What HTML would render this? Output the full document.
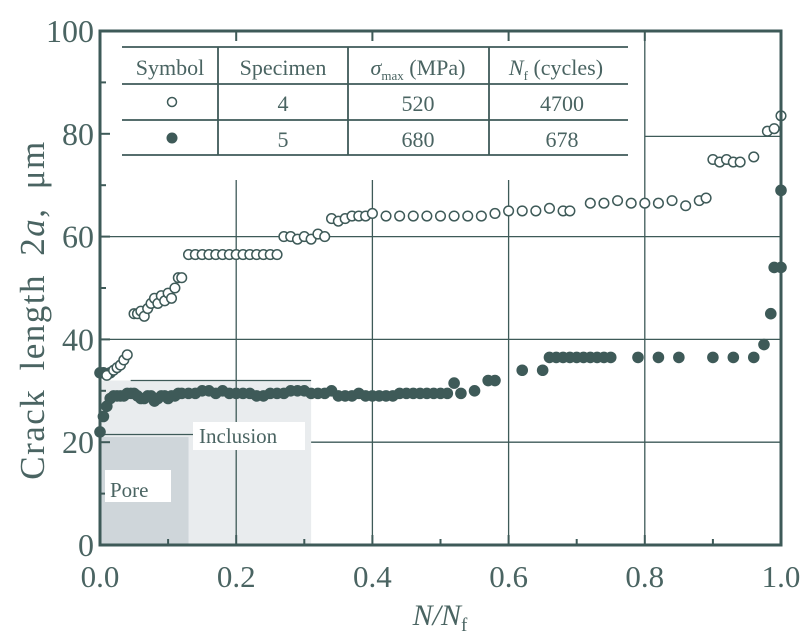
<!DOCTYPE html>
<html><head><meta charset="utf-8"><style>
body{margin:0;background:#fff;width:804px;height:639px;overflow:hidden}
svg text{font-family:"Liberation Serif",serif;fill:#4a6462}
</style></head><body>
<svg id="c" width="804" height="639" style="position:absolute;left:0;top:0">
<g id="bg"></g><g id="grid"></g><g id="marks"></g><g id="fg"></g>
<g>
 <rect x="193" y="422" width="112" height="28" fill="#fff"/>
 <text x="199" y="443" font-size="21">Inclusion</text>
 <rect x="105" y="470" width="66" height="32" fill="#fff"/>
 <text x="110" y="497" font-size="21">Pore</text>
</g>
<g>
 <rect x="122" y="47" width="506" height="108" fill="#fff"/>
 <g stroke="#3e5a58" stroke-width="1.8">
  <line x1="122" y1="47" x2="628" y2="47"/><line x1="122" y1="84" x2="628" y2="84"/>
  <line x1="122" y1="120" x2="628" y2="120"/><line x1="122" y1="155" x2="628" y2="155"/>
  <line x1="218" y1="47" x2="218" y2="155"/><line x1="348" y1="47" x2="348" y2="155"/><line x1="489" y1="47" x2="489" y2="155"/>
 </g>
 <g font-size="22" text-anchor="middle">
  <text x="170" y="75">Symbol</text>
  <text x="283" y="75">Specimen</text>
  <text x="418" y="75"><tspan font-style="italic">σ</tspan><tspan font-size="13" dy="5">max</tspan><tspan dy="-5"> (MPa)</tspan></text>
  <text x="556" y="75"><tspan font-style="italic">N</tspan><tspan font-size="13" dy="5">f</tspan><tspan dy="-5"> (cycles)</tspan></text>
  <text x="283" y="111">4</text><text x="418" y="111">520</text><text x="562" y="111">4700</text>
  <text x="283" y="147">5</text><text x="418" y="147">680</text><text x="562" y="147">678</text>
 </g>
 <circle cx="172" cy="102" r="4.5" fill="#fff" stroke="#3e5a58" stroke-width="1.5"/>
 <circle cx="172" cy="138" r="5.5" fill="#3e5a58"/>
</g>
<text x="440" y="625" text-anchor="middle" font-size="30" font-style="italic">N/N<tspan font-size="19" dy="6" font-style="normal">f</tspan></text>
<text transform="translate(44,310) rotate(-90)" text-anchor="middle" font-size="35" letter-spacing="1.5" word-spacing="8">Crack length  2<tspan font-style="italic">a</tspan>,  μm</text>
</svg>
<script>
const xTicks=[0,0.2,0.4,0.6,0.8,1.0];
const xTickLabels=["0.0","0.2","0.4","0.6","0.8","1.0"];
const yTicks=[0,20,40,60,80,100];
const yTickLabels=["0","20","40","60","80","100"];
const spec4X=[0.01,0.02,0.025,0.03,0.035,0.04,0.05,0.055,0.06,0.065,0.07,0.075,0.08,0.085,0.09,0.095,0.1,0.105,0.11,0.115,0.12,0.13,0.14,0.15,0.16,0.17,0.18,0.19,0.2,0.21,0.22,0.23,0.24,0.25,0.26,0.27,0.28,0.29,0.3,0.31,0.32,0.33,0.34,0.35,0.36,0.37,0.38,0.39,0.4,0.42,0.44,0.46,0.48,0.5,0.52,0.54,0.56,0.58,0.6,0.62,0.64,0.66,0.68,0.69,0.72,0.74,0.76,0.78,0.8,0.82,0.84,0.86,0.88,0.89,0.9,0.91,0.92,0.93,0.94,0.96,0.98,0.99,1.0];
const spec4Y=[33,34,34.5,35,36,37,45,45,45.5,44.5,46,47,48,47,48.5,47.5,49,48,50,52,52,56.5,56.5,56.5,56.5,56.5,56.5,56.5,56.5,56.5,56.5,56.5,56.5,56.5,56.5,60,60,59.5,60,59.5,60.5,60,63.5,63,63.5,64,64,64,64.5,64,64,64,64,64,64,64,64,64.5,65,65,65,65.5,65,65,66.5,66.5,67,66.5,66.5,66.5,67,66,67,67.5,75,74.5,75,74.5,74.5,75.5,80.5,81,83.5];
const spec5X=[0.0,0.0,0.005,0.01,0.015,0.02,0.03,0.04,0.05,0.06,0.07,0.08,0.09,0.1,0.11,0.12,0.14,0.16,0.18,0.2,0.22,0.24,0.26,0.28,0.3,0.32,0.34,0.36,0.38,0.4,0.42,0.44,0.46,0.48,0.5,0.52,0.53,0.55,0.57,0.58,0.62,0.65,0.66,0.68,0.7,0.72,0.74,0.75,0.79,0.82,0.85,0.9,0.93,0.96,0.975,0.985,0.99,1.0,1.0,0.005,0.015,0.025,0.035,0.045,0.055,0.065,0.075,0.085,0.095,0.105,0.115,0.13,0.15,0.17,0.19,0.21,0.23,0.25,0.27,0.29,0.31,0.33,0.35,0.37,0.39,0.41,0.43,0.45,0.47,0.49,0.51,0.67,0.69,0.71,0.73];
const spec5Y=[22,33.5,25,27,28.5,29,29,29.5,29.5,28.5,29,28,29,28.5,29,29.5,29.5,30,30,29.5,29.5,29,29.5,30,30,29.5,30,29,29.5,29,29,29.5,29.5,29.5,29.5,31.5,29.5,30,32,32,34,34,36.5,36.5,36.5,36.5,36.5,36.5,36.5,36.5,36.5,36.5,36.5,36.5,39,45,54,54,69,33.5,33.5,29,29,29.5,29,28.5,29,28.5,29,29,29.5,29.5,30,29.5,29.5,29.5,29,29.5,29.5,30,29.5,29.5,29,29,29,29,29,29.5,29.5,29.5,29.5,36.5,36.5,36.5,36.5];

const X0=100,X1=781,Y0=545,Y1=31;
const sx=v=>X0+v*(X1-X0);
const sy=v=>Y0-v/100*(Y0-Y1);
const C="#3e5a58";
const NS="http://www.w3.org/2000/svg";
function mk(p,tag,attrs,txt){const e=document.createElementNS(NS,tag);for(const k in attrs)e.setAttribute(k,attrs[k]);if(txt!==undefined)e.textContent=txt;document.getElementById(p).appendChild(e);return e;}

let r=mk('bg','rect',{x:sx(0),y:sy(32),width:sx(0.31)-sx(0),height:sy(0)-sy(32),fill:"#e9ecee"});


r=mk('bg','rect',{x:sx(0),y:sy(21),width:sx(0.13)-sx(0),height:sy(0)-sy(21),fill:"#cfd6da"});



const gl=(x1,y1,x2,y2,n)=>{const l=mk('grid','line',{x1,y1,x2,y2,stroke:C,"stroke-width":1.3});

};
gl(sx(0.2),sy(71),sx(0.2),sy(0),'gridline-x-0-2');
gl(sx(0.4),sy(71),sx(0.4),sy(0),'gridline-x-0-4');
gl(sx(0.6),sy(71),sx(0.6),sy(0),'gridline-x-0-6');
gl(sx(0.8),sy(100),sx(0.8),sy(0),'gridline-x-0-8');
gl(sx(0),sy(60),sx(1),sy(60),'gridline-y-60');
gl(sx(0),sy(40),sx(1),sy(40),'gridline-y-40');
gl(sx(0.31),sy(20),sx(1),sy(20),'gridline-y-20');
gl(sx(0.8),sy(79.5),sx(1),sy(79.5),'gridline-y-80');
gl(sx(0.045),sy(32),sx(0.31),sy(32),'inclusion-depth-line');
gl(sx(0),sy(21.5),sx(0.14),sy(21.5),'pore-depth-line');

for(let i=0;i<spec5X.length;i++){const c=mk('marks','circle',{cx:sx(spec5X[i]),cy:sy(spec5Y[i]),r:5.8,fill:C});

}
for(let i=0;i<spec4X.length;i++){const c=mk('marks','circle',{cx:sx(spec4X[i]),cy:sy(spec4Y[i]),r:4.8,fill:"#fff",stroke:C,"stroke-width":1.5});

}

let f=mk('fg','rect',{x:X0,y:Y1,width:X1-X0,height:Y0-Y1,fill:"none",stroke:C,"stroke-width":3});


for(let i=0;i<xTicks.length;i++){
 const t=mk('fg','text',{x:sx(xTicks[i]),y:587,"text-anchor":"middle","font-size":31},xTickLabels[i]);
 
 
 mk('fg','line',{x1:sx(xTicks[i]),y1:Y0,x2:sx(xTicks[i]),y2:Y0-10,stroke:C,"stroke-width":2});
 mk('fg','line',{x1:sx(xTicks[i]),y1:Y1,x2:sx(xTicks[i]),y2:Y1+10,stroke:C,"stroke-width":2});
 if(i<xTicks.length-1){const m=(xTicks[i]+xTicks[i+1])/2;
  mk('fg','line',{x1:sx(m),y1:Y0,x2:sx(m),y2:Y0-6,stroke:C,"stroke-width":2});}
}
for(let i=0;i<yTicks.length;i++){
 const t=mk('fg','text',{x:94,y:sy(yTicks[i])+11,"text-anchor":"end","font-size":32},yTickLabels[i]);
 
 
 mk('fg','line',{x1:X0,y1:sy(yTicks[i]),x2:X0+10,y2:sy(yTicks[i]),stroke:C,"stroke-width":2});
 if(i<yTicks.length-1){const m=(yTicks[i]+yTicks[i+1])/2;
  mk('fg','line',{x1:X0,y1:sy(m),x2:X0+6,y2:sy(m),stroke:C,"stroke-width":2});}
}
</script>
</body></html>
